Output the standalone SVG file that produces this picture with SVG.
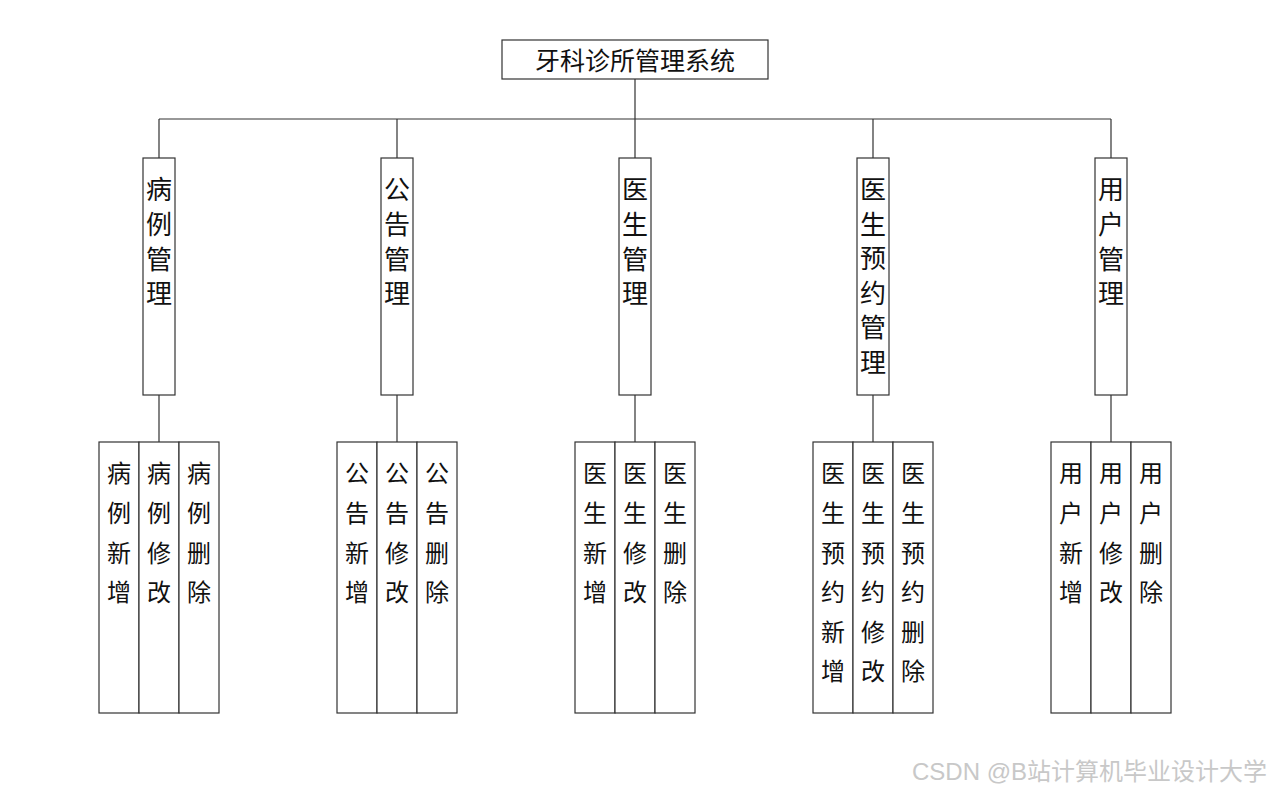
<svg xmlns="http://www.w3.org/2000/svg" width="1269" height="793" viewBox="0 0 1269 793">
<style>
.box{fill:#fff;stroke:#333;stroke-width:1.2}
.ln{stroke:#333;stroke-width:1.2;fill:none}
.t{font-family:"Noto Sans CJK SC","Noto Sans",sans-serif;fill:#111;text-anchor:middle}
.m{font-size:26px}
.l{font-size:24px}
.wm{font-family:"Liberation Sans","Noto Sans CJK SC",sans-serif;font-size:24px;fill:#c8c8c8}
</style>
<rect width="1269" height="793" fill="#fff"/>
<g id="connectors">
<path class="ln" d="M635 79V119M159 119H1111M159 119V158M397 119V158M635 119V158M873 119V158M1111 119V158"/>
<path class="ln" d="M159 395V442M397 395V442M635 395V442M873 395V442M1111 395V442"/>
</g>
<g id="root">
<rect class="box" x="502" y="40" width="266" height="39"/>
<text class="t" x="635" y="70" font-size="25">牙科诊所管理系统</text>
</g>
<g id="m1">
<rect class="box" x="143" y="158" width="32" height="237"/>
<text class="t m" x="159"><tspan x="159" y="199">病</tspan><tspan x="159" y="234">例</tspan><tspan x="159" y="269">管</tspan><tspan x="159" y="303">理</tspan></text>
</g>
<g id="m2">
<rect class="box" x="381" y="158" width="32" height="237"/>
<text class="t m"><tspan x="397" y="199">公</tspan><tspan x="397" y="234">告</tspan><tspan x="397" y="269">管</tspan><tspan x="397" y="303">理</tspan></text>
</g>
<g id="m3">
<rect class="box" x="619" y="158" width="32" height="237"/>
<text class="t m"><tspan x="635" y="199">医</tspan><tspan x="635" y="234">生</tspan><tspan x="635" y="269">管</tspan><tspan x="635" y="303">理</tspan></text>
</g>
<g id="m4">
<rect class="box" x="857" y="158" width="32" height="237"/>
<text class="t m"><tspan x="873" y="199">医</tspan><tspan x="873" y="233.5">生</tspan><tspan x="873" y="268">预</tspan><tspan x="873" y="302.5">约</tspan><tspan x="873" y="337">管</tspan><tspan x="873" y="371.5">理</tspan></text>
</g>
<g id="m5">
<rect class="box" x="1095" y="158" width="32" height="237"/>
<text class="t m"><tspan x="1111" y="199">用</tspan><tspan x="1111" y="234">户</tspan><tspan x="1111" y="269">管</tspan><tspan x="1111" y="303">理</tspan></text>
</g>
<g id="leaf1">
<rect class="box" x="99" y="442" width="40" height="271"/><rect class="box" x="139" y="442" width="40" height="271"/><rect class="box" x="179" y="442" width="40" height="271"/>
<text class="t l"><tspan x="119" y="482">病</tspan><tspan x="119" y="522">例</tspan><tspan x="119" y="562">新</tspan><tspan x="119" y="601">增</tspan></text>
<text class="t l"><tspan x="159" y="482">病</tspan><tspan x="159" y="522">例</tspan><tspan x="159" y="562">修</tspan><tspan x="159" y="601">改</tspan></text>
<text class="t l"><tspan x="199" y="482">病</tspan><tspan x="199" y="522">例</tspan><tspan x="199" y="562">删</tspan><tspan x="199" y="601">除</tspan></text>
</g>
<g id="leaf2">
<rect class="box" x="337" y="442" width="40" height="271"/><rect class="box" x="377" y="442" width="40" height="271"/><rect class="box" x="417" y="442" width="40" height="271"/>
<text class="t l"><tspan x="357" y="482">公</tspan><tspan x="357" y="522">告</tspan><tspan x="357" y="562">新</tspan><tspan x="357" y="601">增</tspan></text>
<text class="t l"><tspan x="397" y="482">公</tspan><tspan x="397" y="522">告</tspan><tspan x="397" y="562">修</tspan><tspan x="397" y="601">改</tspan></text>
<text class="t l"><tspan x="437" y="482">公</tspan><tspan x="437" y="522">告</tspan><tspan x="437" y="562">删</tspan><tspan x="437" y="601">除</tspan></text>
</g>
<g id="leaf3">
<rect class="box" x="575" y="442" width="40" height="271"/><rect class="box" x="615" y="442" width="40" height="271"/><rect class="box" x="655" y="442" width="40" height="271"/>
<text class="t l"><tspan x="595" y="482">医</tspan><tspan x="595" y="522">生</tspan><tspan x="595" y="562">新</tspan><tspan x="595" y="601">增</tspan></text>
<text class="t l"><tspan x="635" y="482">医</tspan><tspan x="635" y="522">生</tspan><tspan x="635" y="562">修</tspan><tspan x="635" y="601">改</tspan></text>
<text class="t l"><tspan x="675" y="482">医</tspan><tspan x="675" y="522">生</tspan><tspan x="675" y="562">删</tspan><tspan x="675" y="601">除</tspan></text>
</g>
<g id="leaf4">
<rect class="box" x="813" y="442" width="40" height="271"/><rect class="box" x="853" y="442" width="40" height="271"/><rect class="box" x="893" y="442" width="40" height="271"/>
<text class="t l"><tspan x="833" y="482">医</tspan><tspan x="833" y="522">生</tspan><tspan x="833" y="562">预</tspan><tspan x="833" y="601">约</tspan><tspan x="833" y="641">新</tspan><tspan x="833" y="680">增</tspan></text>
<text class="t l"><tspan x="873" y="482">医</tspan><tspan x="873" y="522">生</tspan><tspan x="873" y="562">预</tspan><tspan x="873" y="601">约</tspan><tspan x="873" y="641">修</tspan><tspan x="873" y="680">改</tspan></text>
<text class="t l"><tspan x="913" y="482">医</tspan><tspan x="913" y="522">生</tspan><tspan x="913" y="562">预</tspan><tspan x="913" y="601">约</tspan><tspan x="913" y="641">删</tspan><tspan x="913" y="680">除</tspan></text>
</g>
<g id="leaf5">
<rect class="box" x="1051" y="442" width="40" height="271"/><rect class="box" x="1091" y="442" width="40" height="271"/><rect class="box" x="1131" y="442" width="40" height="271"/>
<text class="t l"><tspan x="1071" y="482">用</tspan><tspan x="1071" y="522">户</tspan><tspan x="1071" y="562">新</tspan><tspan x="1071" y="601">增</tspan></text>
<text class="t l"><tspan x="1111" y="482">用</tspan><tspan x="1111" y="522">户</tspan><tspan x="1111" y="562">修</tspan><tspan x="1111" y="601">改</tspan></text>
<text class="t l"><tspan x="1151" y="482">用</tspan><tspan x="1151" y="522">户</tspan><tspan x="1151" y="562">删</tspan><tspan x="1151" y="601">除</tspan></text>
</g>
<text class="wm" x="912" y="780">CSDN @B站计算机毕业设计大学</text>
</svg>
